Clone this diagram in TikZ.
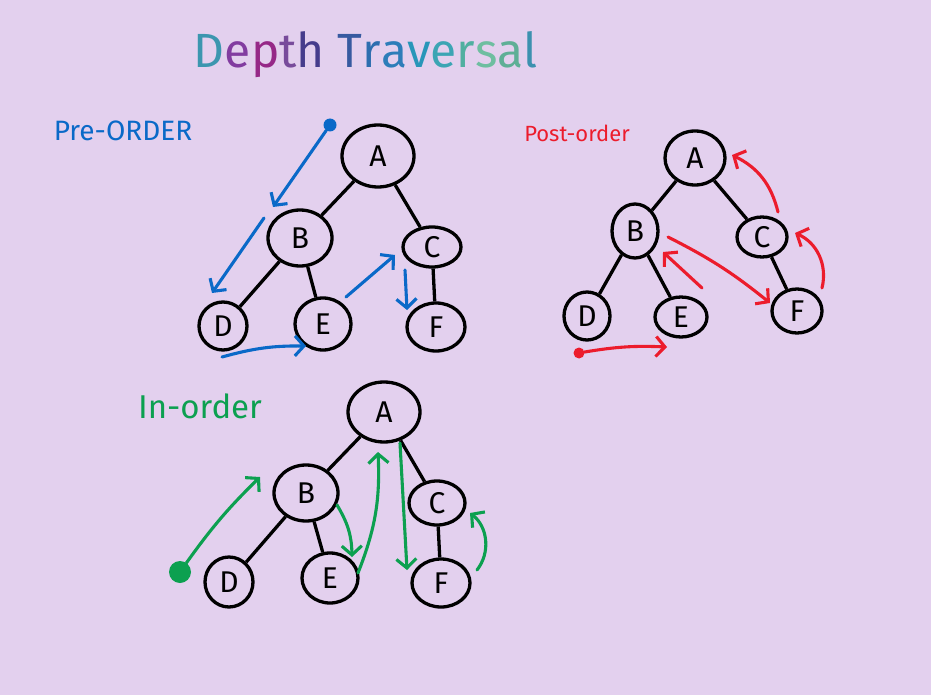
\documentclass[tikz,border=0pt]{standalone}
\usepackage{fontspec}
\setmainfont{Fira Sans}
\usepackage{tikz}
\usetikzlibrary{shapes, arrows.meta, positioning}
\definecolor{lilac}{RGB}{227,208,238}
\definecolor{preblue}{RGB}{10,105,200}
\definecolor{postred}{RGB}{236,28,44}
\definecolor{ingreen}{RGB}{12,160,80}
\tikzstyle{o}       = [draw, ellipse, line width=3.3pt, inner sep=0pt, font=\fontsize{30}{32}\selectfont]
\tikzstyle{tree}    = [draw, line width=3.3pt]
\tikzstyle{dot}     = [circle, inner sep=0pt, minimum size=10pt]
\tikzstyle{label}   = [font=\fontsize{28}{30}\selectfont]
\tikzstyle{barb}    = [draw, line width=3.1pt, line cap=round, -{Straight Barb[length=9pt,width=20pt]}]
\tikzstyle{prearr}  = [barb, preblue]
\tikzstyle{postarr} = [barb, postred]
\tikzstyle{inarr}   = [barb, ingreen]

\begin{document}
\begin{tikzpicture}[x=1pt, y=-1pt]

\fill [lilac] (0,0) rectangle (931,695);
\useasboundingbox (0,0) rectangle (931,695);

% title
\node at (366,55) (title) {\fontsize{48}{50}\selectfont
  \textcolor[RGB]{60,150,175}{D}\textcolor[RGB]{130,60,160}{e}\textcolor[RGB]{150,40,135}{p}\textcolor[RGB]{120,75,155}{t}\textcolor[RGB]{70,60,140}{h}
  \textcolor[RGB]{55,90,160}{T}\textcolor[RGB]{45,110,175}{r}\textcolor[RGB]{45,125,185}{a}\textcolor[RGB]{40,150,185}{v}\textcolor[RGB]{60,165,180}{e}\textcolor[RGB]{80,175,160}{r}\textcolor[RGB]{110,190,160}{s}\textcolor[RGB]{95,175,150}{a}\textcolor[RGB]{60,145,175}{l}};

% labels
\node [label, preblue]                              at (123,131) (prelabel)  {Pre-ORDER};
\node [label, postred, font=\fontsize{22}{24}\selectfont] at (577,133) (postlabel) {Post-order};
\node [label, ingreen, font=\fontsize{33}{35}\selectfont] at (200,406) (inlabel)   {In-order};

% pre-order nodes
\node [o, minimum width=72, minimum height=62] at (378,156) (pa) {A};
\node [o, minimum width=64, minimum height=56] at (300,238) (pb) {B};
\node [o, minimum width=58, minimum height=40] at (432,247) (pc) {C};
\node [o, minimum width=48, minimum height=48] at (223,326) (pd) {D};
\node [o, minimum width=56, minimum height=52] at (323,324) (pe) {E};
\node [o, minimum width=58, minimum height=48] at (436,327) (pf) {F};

% post-order nodes
\node [o, minimum width=60, minimum height=54] at (695,158) (qa) {A};
\node [o, minimum width=46, minimum height=54] at (635,231) (qb) {B};
\node [o, minimum width=50, minimum height=40] at (762,237) (qc) {C};
\node [o, minimum width=46, minimum height=48] at (587,316) (qd) {D};
\node [o, minimum width=52, minimum height=40] at (681,317) (qe) {E};
\node [o, minimum width=50, minimum height=44] at (797,311) (qf) {F};

% in-order nodes
\node [o, minimum width=72, minimum height=60] at (384,412) (ga) {A};
\node [o, minimum width=64, minimum height=56] at (306,493) (gb) {B};
\node [o, minimum width=56, minimum height=44] at (437,503) (gc) {C};
\node [o, minimum width=48, minimum height=50] at (229,582) (gd) {D};
\node [o, minimum width=56, minimum height=50] at (330,578) (ge) {E};
\node [o, minimum width=58, minimum height=48] at (441,583) (gf) {F};

% tree edges
\path [tree] (pa) -- (pb)  (pa) -- (pc)  (pb) -- (pd)  (pb) -- (pe)  (pc) -- (pf);
\path [tree] (qa) -- (qb)  (qa) -- (qc)  (qb) -- (qd)  (qb) -- (qe)  (qc) -- (qf);
\path [tree] (ga) -- (gb)  (ga) -- (gc)  (gb) -- (gd)  (gb) -- (ge)  (gc) -- (gf);

% start dots
\node [dot, fill=preblue, minimum width=10, minimum height=13] at (330,125) (pstart) {};
\node [dot, fill=postred, minimum size=11]                     at (579,353) (qstart) {};
\node [dot, fill=ingreen, minimum size=22]                     at (180,572) (gstart) {};

% arrow ends
\coordinate (p1e) at (273,207);
\coordinate (p2s) at (264,218);  \coordinate (p2e) at (212,293);
\coordinate (p3s) at (222,357);  \coordinate (p3e) at (306,346);
\coordinate (p4s) at (346,297);  \coordinate (p4e) at (395,255);
\coordinate (p5s) at (405,270);  \coordinate (p5e) at (407,310);

\coordinate (q1e) at (667,347);
\coordinate (q2s) at (702,288);  \coordinate (q2e) at (663,252);
\coordinate (q3s) at (668,237);  \coordinate (q3e) at (770,303);
\coordinate (q4s) at (822,288);  \coordinate (q4e) at (795,233);
\coordinate (q5s) at (778,212);  \coordinate (q5e) at (732,155);

\coordinate (g1e) at (260,477);
\coordinate (g2s) at (337,505);  \coordinate (g2e) at (352,557);
\coordinate (g3s) at (358,573);  \coordinate (g3e) at (378,452);
\coordinate (g4s) at (400,443);  \coordinate (g4e) at (407,570);
\coordinate (g5s) at (477,570);  \coordinate (g5e) at (470,513);

% traversal arrows
\path (pstart) edge [prearr]                  (p1e)
      (p2s)    edge [prearr]                  (p2e)
      (p3s)    edge [prearr, bend left=8]     (p3e)
      (p4s)    edge [prearr]                  (p4e)
      (p5s)    edge [prearr]                  (p5e);

\path (qstart) edge [postarr, bend left=6]    (q1e)
      (q2s)    edge [postarr]                 (q2e)
      (q3s)    edge [postarr, bend left=6]    (q3e)
      (q4s)    edge [postarr, bend right=40]  (q4e)
      (q5s)    edge [postarr, bend right=25]  (q5e);

\path (gstart) edge [inarr, bend left=5]      (g1e)
      (g2s)    edge [inarr, bend left=15]     (g2e)
      (g3s)    edge [inarr, bend right=12]    (g3e)
      (g4s)    edge [inarr]                   (g4e)
      (g5s)    edge [inarr, bend right=45]    (g5e);

\end{tikzpicture}
\end{document}
